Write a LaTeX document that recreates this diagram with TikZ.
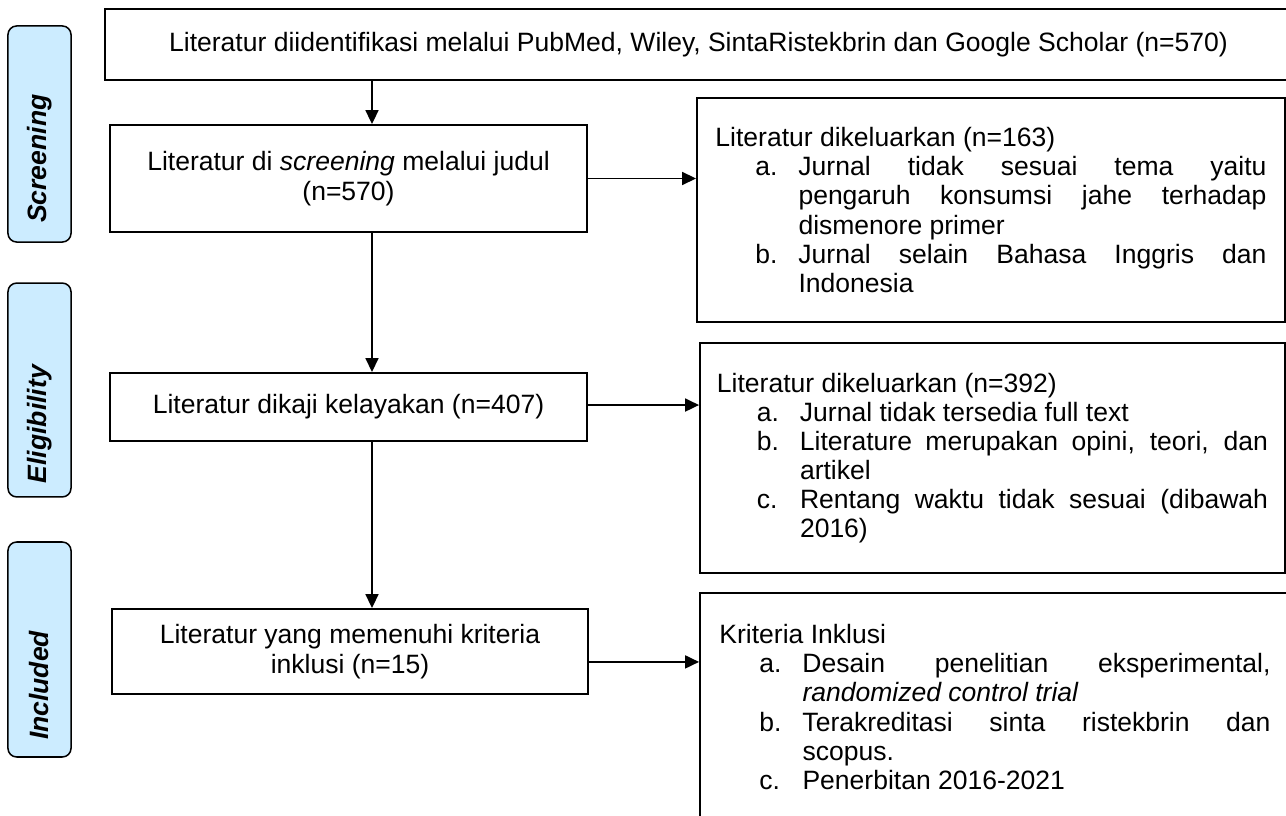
\documentclass[tikz,border=0pt]{standalone}
\usepackage{fontspec}
\setmainfont{Liberation Sans}
\usetikzlibrary{arrows.meta,positioning}

\definecolor{phaseblue}{HTML}{CCECFF}
\hyphenpenalty=10000
\tolerance=10000

% list item: label at 18.4pt, text hanging at 38.2pt
\newcommand{\butir}[2]{\par\hangindent=38.2pt\hangafter=0\noindent\llap{\makebox[19.8pt][l]{#1}}#2\par}

\tikzset{
  box/.style={draw=black, line width=0.9pt, align=center, inner sep=0pt,
    font=\fontsize{12.2}{13.6}\selectfont},
  listbox/.style={draw=black, line width=0.9pt, inner sep=0pt, text width=253.5pt,
    align=justify, font=\fontsize{12.2}{13.4}\selectfont},
  phase/.style={draw=black, line width=0.7pt, fill=phaseblue, rounded corners=4pt,
    minimum width=29pt, inner sep=0pt},
  phaselabel/.style={rotate=90, anchor=west, inner sep=0pt,
    font=\fontsize{12.2}{13.4}\selectfont\bfseries\itshape},
  flow/.style={line width=0.7pt, arrows={-Triangle[length=6.4pt,width=6pt]}},
}

\begin{document}
\begin{tikzpicture}[x=0.46pt, y=-0.46pt]
\useasboundingbox (0,0) rectangle (1286,816);

% phases
\node[phase, minimum height=99.4pt] (phscr) at (39.5,134) {};
\node[phase, minimum height=98.4pt] (phelig) at (39.5,390) {};
\node[phase, minimum height=98.9pt] (phincl) at (39.5,649.5) {};
\node[phaselabel] (lbscr) at ([yshift=9pt]phscr.south) {Screening};
\node[phaselabel] (lbelig) at ([yshift=6.5pt]phelig.south) {Eligibility};
\node[phaselabel] (lbincl) at ([yshift=8pt]phincl.south) {Included};

% main column
\node[box, minimum width=546pt, minimum height=32.7pt] (ident) at (698.5,44.5)
  {Literatur diidentifikasi melalui PubMed, Wiley, SintaRistekbrin dan Google Scholar (n=570)};
\node[box, minimum width=219.4pt, minimum height=49.2pt] (screen) at (348.5,178.5)
  {Literatur di \textit{screening} melalui judul\\(n=570)};
\node[box, minimum width=219.4pt, minimum height=31.3pt] (eligible) at (348.5,407)
  {Literatur dikaji kelayakan (n=407)};
\node[box, minimum width=219pt, minimum height=39.1pt] (included) at (350,651.5)
  {Literatur yang memenuhi kriteria\\inklusi (n=15)};

% right column
\node[listbox, minimum width=270.5pt, minimum height=103pt] (keluar1) at (991,210) {%
  \noindent Literatur dikeluarkan (n=163)
  \butir{a.}{Jurnal tidak sesuai tema yaitu\linebreak pengaruh konsumsi jahe terhadap\linebreak dismenore primer}
  \butir{b.}{Jurnal selain Bahasa Inggris dan\linebreak Indonesia}};
\node[listbox, minimum width=269.1pt, minimum height=105.8pt] (keluar2) at (992.5,458) {%
  \noindent Literatur dikeluarkan (n=392)
  \butir{a.}{Jurnal tidak tersedia full text}
  \butir{b.}{Literature merupakan opini, teori, dan\linebreak artikel}
  \butir{c.}{Rentang waktu tidak sesuai (dibawah\linebreak 2016)}};
\node[listbox, minimum width=271.4pt, minimum height=104.9pt] (kriteria) at (995,707) {%
  \noindent Kriteria Inklusi
  \butir{a.}{Desain penelitian eksperimental,\linebreak \textit{randomized control trial}}
  \butir{b.}{Terakreditasi sinta ristekbrin dan\linebreak scopus.}
  \butir{c.}{Penerbitan 2016-2021}};

% arrows
\coordinate (spine) at (372,0);
\draw[flow] (ident.south -| spine) -- (screen.north -| spine);
\draw[flow] (screen.south -| spine) -- (eligible.north -| spine);
\draw[flow] (eligible.south -| spine) -- (included.north -| spine);
\draw[flow] (screen.east) -- (screen.east -| keluar1.west);
\draw[flow] ([yshift=0.9pt]eligible.east) -- ([yshift=0.9pt]eligible.east -| keluar2.west);
\draw[flow] ([yshift=-4.8pt]included.east) -- ([yshift=-4.8pt]included.east -| kriteria.west);
\end{tikzpicture}
\end{document}
